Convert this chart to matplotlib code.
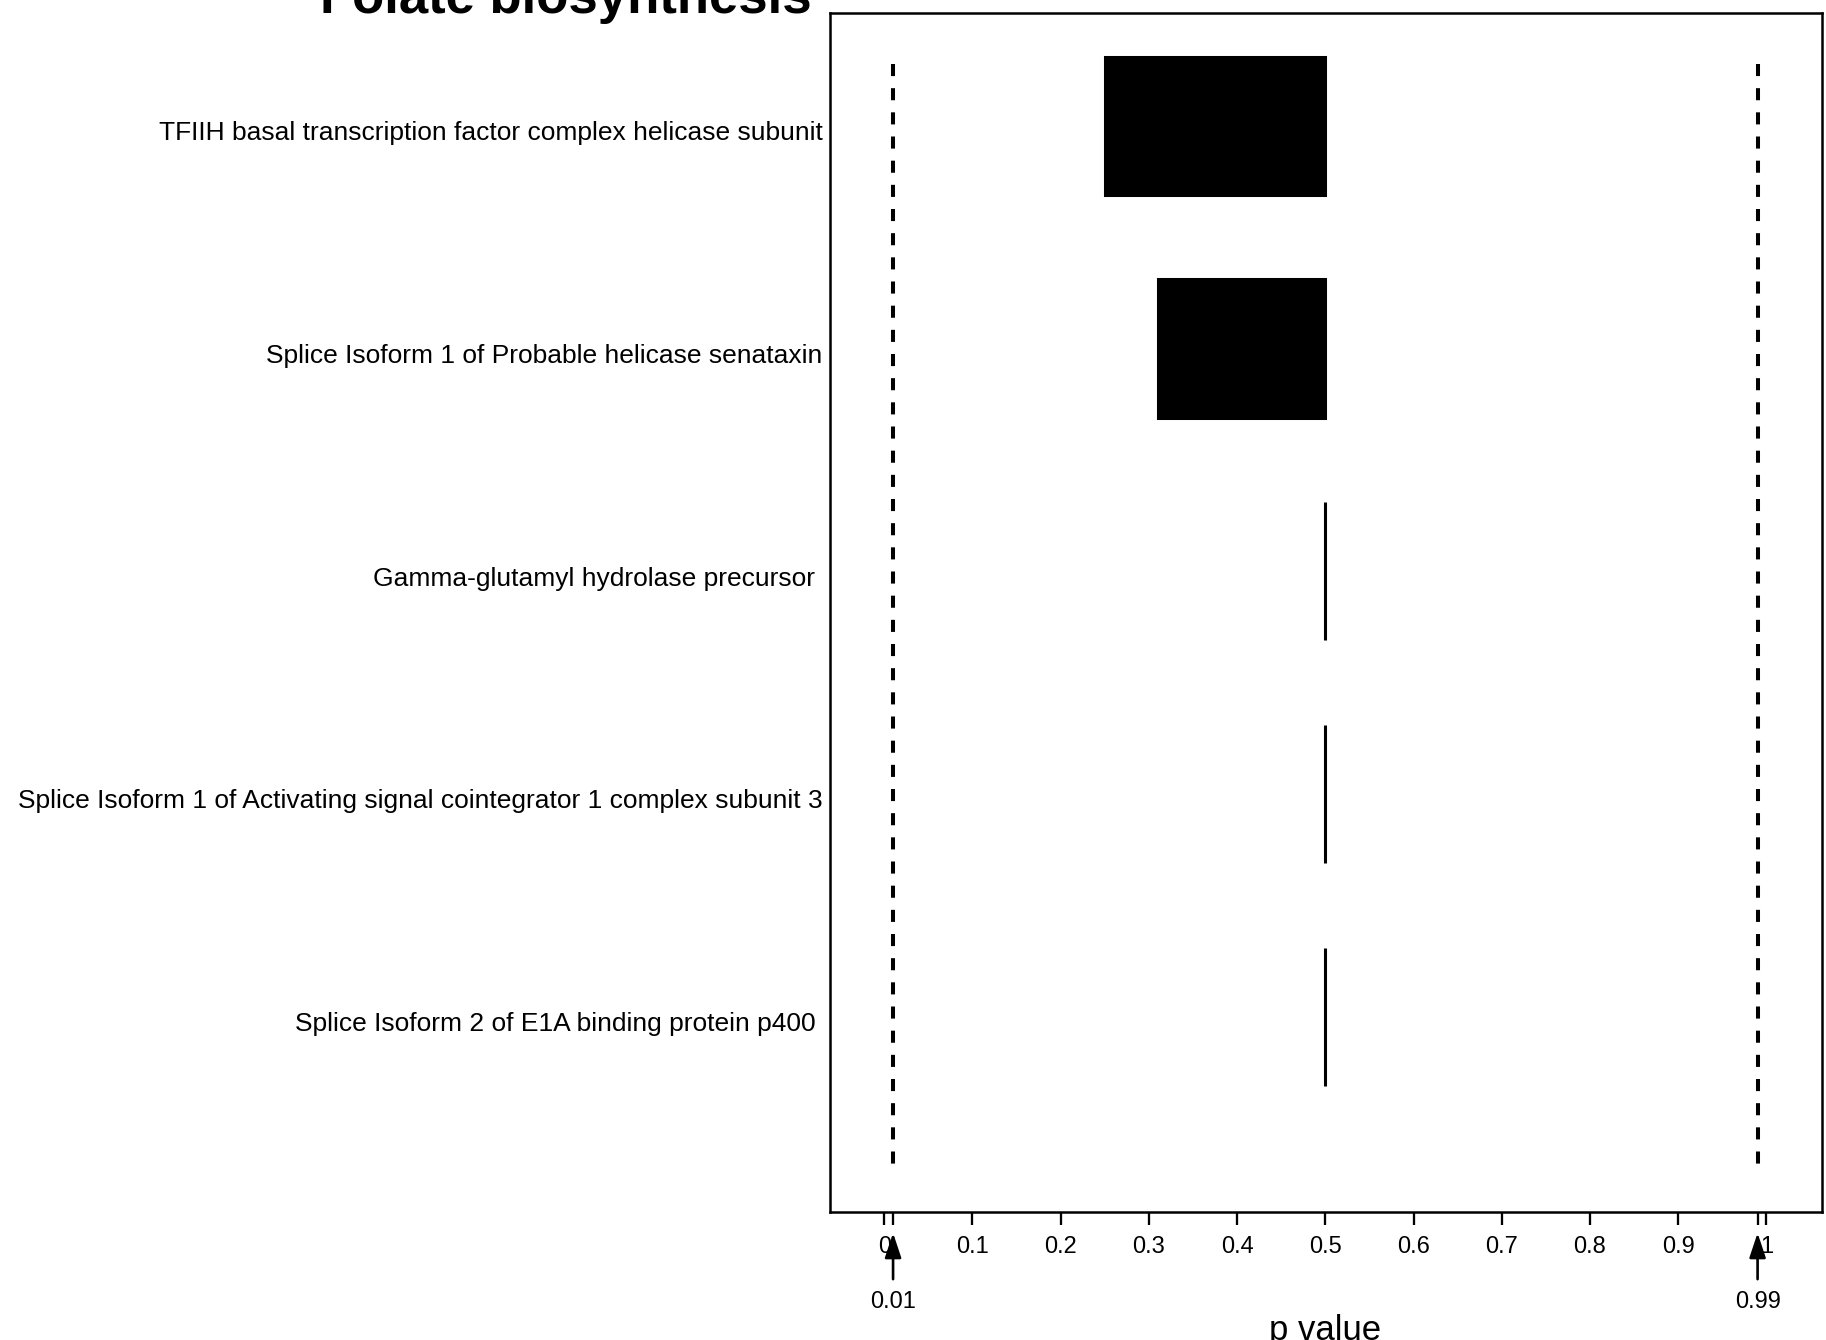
import matplotlib
matplotlib.use("Agg")
import matplotlib.pyplot as plt
import matplotlib.transforms as mtransforms

plt.rcParams['font.family'] = ['Liberation Sans', 'DejaVu Sans']

title = "Folate biosynthesis"
proteins = [
    "TFIIH basal transcription factor complex helicase subunit",
    "Splice Isoform 1 of Probable helicase senataxin",
    "Gamma-glutamyl hydrolase precursor ",
    "Splice Isoform 1 of Activating signal cointegrator 1 complex subunit 3",
    "Splice Isoform 2 of E1A binding protein p400 ",
]
p_low = [0.25, 0.31, 0.5, 0.5, 0.5]
p_high = [0.5, 0.5, 0.5, 0.5, 0.5]
thresholds = [0.01, 0.99]
threshold_labels = ["0.01", "0.99"]
xticks = [0, 0.1, 0.2, 0.3, 0.4, 0.5, 0.6, 0.7, 0.8, 0.9, 1]
xtick_labels = ["0", "0.1", "0.2", "0.3", "0.4", "0.5", "0.6", "0.7", "0.8", "0.9", "1"]

fig = plt.figure(figsize=(18.26, 13.4), dpi=100)
ax = fig.add_axes([0.4543, 0.0955, 0.9978 - 0.4543, 0.9903 - 0.0955])

ypos = list(range(1, len(proteins) + 1))
widths = [h - l for l, h in zip(p_low, p_high)]
ax.barh(ypos, widths, left=p_low, height=0.62, color='black',
        edgecolor='black', linewidth=2.2)

for t in thresholds:
    ax.plot([t, t], [0.723, 5.71], color='black', lw=2.9,
            linestyle=(0, (3.0, 3.0)))

ax.set_xlim(-0.062, 1.063)
ax.set_ylim(5.877, 0.494)

ax.set_xticks(xticks + thresholds)
ax.set_xticklabels(xtick_labels + ["", ""], fontsize=17)
ax.tick_params(axis='x', direction='out', length=9.4, width=1.65, pad=7.5)
ax.set_yticks(ypos)
ax.set_yticklabels(proteins, fontsize=19)
ax.tick_params(axis='y', length=0, pad=5)
shift = mtransforms.ScaledTranslation(0, -0.05, fig.dpi_scale_trans)
for lab in ax.get_yticklabels():
    lab.set_transform(lab.get_transform() + shift)
for s in ax.spines.values():
    s.set_linewidth(1.8)

trans = mtransforms.blended_transform_factory(ax.transData, ax.transAxes)
for t, lab in zip(thresholds, threshold_labels):
    ax.annotate("", xy=(t, -0.0175), xycoords=trans,
                xytext=(t, -0.056), textcoords=trans,
                arrowprops=dict(arrowstyle='-|>,head_length=1.5,head_width=0.5',
                                color='black', lw=1.9, shrinkA=0, shrinkB=0),
                annotation_clip=False)
    ax.text(t, -0.075, lab, transform=trans, ha='center', va='center',
            fontsize=17)

ax.text(0.5, 0, "p value", transform=mtransforms.blended_transform_factory(ax.transData, fig.transFigure),
        ha='center', va='baseline', fontsize=25)

fig.text(812 / 1826, 1 - 13 / 1340, title, ha='right', va='baseline',
         fontsize=38, fontweight='bold')

fig.savefig("out.png", dpi=100)
